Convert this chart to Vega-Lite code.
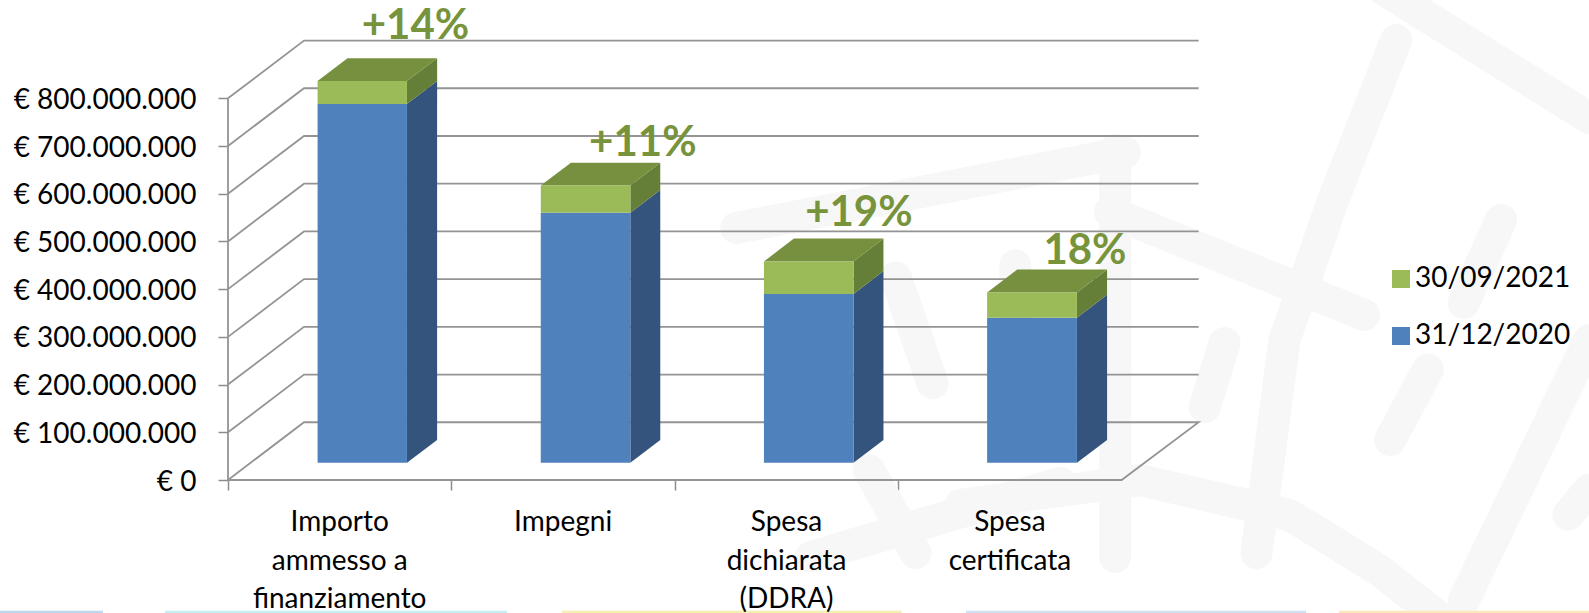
{
"$schema":"https://vega.github.io/schema/vega-lite/v6.json",
"width":1361,"height":480,
"autosize":{"type":"none"},
"padding":{"left":228,"top":0,"right":0,"bottom":133},
"background":"white",
"config":{"view":{"stroke":null},"font":"Lato"},
"datasets":{
"watermark":[
{"id":"a","ord":1,"pos":2.275,"val":528000000},{"id":"a","ord":2,"pos":4.015,"val":687000000},
{"id":"b","ord":1,"pos":3.971,"val":692000000},{"id":"b","ord":2,"pos":3.971,"val":-161000000},
{"id":"c","ord":1,"pos":3.948,"val":562000000},{"id":"c","ord":2,"pos":5.085,"val":346000000},
{"id":"d","ord":1,"pos":5.229,"val":922000000},{"id":"d","ord":2,"pos":4.947,"val":587000000},{"id":"d","ord":3,"pos":4.729,"val":293000000},{"id":"d","ord":4,"pos":4.604,"val":-153000000},
{"id":"e","ord":1,"pos":5.175,"val":1027000000},{"id":"e","ord":2,"pos":6.0922,"val":759000000},
{"id":"f","ord":1,"pos":5.698,"val":545000000},{"id":"f","ord":2,"pos":5.531,"val":371000000},
{"id":"g","ord":1,"pos":4.461,"val":287000000},{"id":"g","ord":2,"pos":4.372,"val":153000000},
{"id":"h","ord":1,"pos":5.371,"val":231000000},{"id":"h","ord":2,"pos":5.202,"val":84000000},
{"id":"i","ord":1,"pos":6.0922,"val":293000000},{"id":"i","ord":2,"pos":5.532,"val":-252000000},
{"id":"j","ord":1,"pos":6.0922,"val":-21000000},{"id":"j","ord":2,"pos":6.0,"val":-73000000},
{"id":"k","ord":1,"pos":3.279,"val":-52000000},{"id":"k","ord":2,"pos":4.082,"val":0},{"id":"k","ord":3,"pos":4.751,"val":-73000000},{"id":"k","ord":4,"pos":5.153,"val":-189000000},{"id":"k","ord":5,"pos":5.465,"val":-304000000},
{"id":"l","ord":1,"pos":2.989,"val":425000000},{"id":"l","ord":2,"pos":3.154,"val":203000000},
{"id":"m","ord":1,"pos":2.869,"val":21000000},{"id":"m","ord":2,"pos":3.078,"val":-153000000},
{"id":"n","ord":1,"pos":2.61,"val":-161000000},{"id":"n","ord":2,"pos":3.725,"val":-6000000},
{"id":"o","ord":1,"pos":3.524,"val":450000000},{"id":"o","ord":2,"pos":3.524,"val":314000000}
],
"strips":[
{"pos":-1.0206,"pos2":-0.5595,"val":-274000000,"val2":-279000000,"c":"#bcd6ee"},
{"pos":-0.2819,"pos2":1.2489,"val":-274000000,"val2":-279000000,"c":"#c5eef0"},
{"pos":1.495,"pos2":3.015,"val":-274000000,"val2":-279000000,"c":"#f3f0b0"},
{"pos":3.304,"pos2":4.826,"val":-274000000,"val2":-279000000,"c":"#cfe0f0"},
{"pos":4.973,"pos2":6.0922,"val":-274000000,"val2":-279000000,"c":"#fde9b8"}
],
"grid":[
{"id":"axis","ord":1,"pos":0,"val":0},{"id":"axis","ord":2,"pos":0,"val":800000000},
{"id":"floor","ord":1,"pos":0,"val":0},{"id":"floor","ord":2,"pos":0.3402,"val":121000000},{"id":"floor","ord":3,"pos":4.345,"val":121000000},{"id":"floor","ord":4,"pos":4,"val":0},{"id":"floor","ord":5,"pos":0,"val":0},
{"id":"g1","ord":1,"pos":0,"val":100000000},{"id":"g1","ord":2,"pos":0.3402,"val":221000000},{"id":"g1","ord":3,"pos":4.345,"val":221000000},
{"id":"g2","ord":1,"pos":0,"val":200000000},{"id":"g2","ord":2,"pos":0.3402,"val":321000000},{"id":"g2","ord":3,"pos":4.345,"val":321000000},
{"id":"g3","ord":1,"pos":0,"val":300000000},{"id":"g3","ord":2,"pos":0.3402,"val":421000000},{"id":"g3","ord":3,"pos":4.345,"val":421000000},
{"id":"g4","ord":1,"pos":0,"val":400000000},{"id":"g4","ord":2,"pos":0.3402,"val":521000000},{"id":"g4","ord":3,"pos":4.345,"val":521000000},
{"id":"g5","ord":1,"pos":0,"val":500000000},{"id":"g5","ord":2,"pos":0.3402,"val":621000000},{"id":"g5","ord":3,"pos":4.345,"val":621000000},
{"id":"g6","ord":1,"pos":0,"val":600000000},{"id":"g6","ord":2,"pos":0.3402,"val":721000000},{"id":"g6","ord":3,"pos":4.345,"val":721000000},
{"id":"g7","ord":1,"pos":0,"val":700000000},{"id":"g7","ord":2,"pos":0.3402,"val":821000000},{"id":"g7","ord":3,"pos":4.345,"val":821000000},
{"id":"g8","ord":1,"pos":0,"val":800000000},{"id":"g8","ord":2,"pos":0.3402,"val":921000000},{"id":"g8","ord":3,"pos":4.345,"val":921000000}
],
"sideBlue":[
{"id":1,"pos":0.801,"val":36000000,"val2":788000000},{"id":1,"pos":0.936,"val":84000000,"val2":836000000},
{"id":2,"pos":1.801,"val":36000000,"val2":560000000},{"id":2,"pos":1.935,"val":84000000,"val2":608000000},
{"id":3,"pos":2.8,"val":36000000,"val2":390000000},{"id":3,"pos":2.934,"val":84000000,"val2":438000000},
{"id":4,"pos":3.8,"val":36000000,"val2":340000000},{"id":4,"pos":3.935,"val":84000000,"val2":388000000}
],
"sideGreen":[
{"id":1,"pos":0.801,"val":788000000,"val2":836000000},{"id":1,"pos":0.936,"val":836000000,"val2":884000000},
{"id":2,"pos":1.801,"val":560000000,"val2":617000000},{"id":2,"pos":1.935,"val":608000000,"val2":665000000},
{"id":3,"pos":2.8,"val":390000000,"val2":458000000},{"id":3,"pos":2.934,"val":438000000,"val2":506000000},
{"id":4,"pos":3.8,"val":340000000,"val2":393000000},{"id":4,"pos":3.935,"val":388000000,"val2":441000000}
],
"topFace":[
{"id":1,"pos":0.401,"val":836000000,"val2":836000000},{"id":1,"pos":0.535,"val":836000000,"val2":884000000},{"id":1,"pos":0.801,"val":836000000,"val2":884000000},{"id":1,"pos":0.936,"val":884000000,"val2":884000000},
{"id":2,"pos":1.4,"val":617000000,"val2":617000000},{"id":2,"pos":1.535,"val":617000000,"val2":665000000},{"id":2,"pos":1.801,"val":617000000,"val2":665000000},{"id":2,"pos":1.935,"val":665000000,"val2":665000000},
{"id":3,"pos":2.399,"val":458000000,"val2":458000000},{"id":3,"pos":2.533,"val":458000000,"val2":506000000},{"id":3,"pos":2.8,"val":458000000,"val2":506000000},{"id":3,"pos":2.934,"val":506000000,"val2":506000000},
{"id":4,"pos":3.398,"val":393000000,"val2":393000000},{"id":4,"pos":3.533,"val":393000000,"val2":441000000},{"id":4,"pos":3.8,"val":393000000,"val2":441000000},{"id":4,"pos":3.935,"val":441000000,"val2":441000000}
],
"front":[
{"series":"31/12/2020","pos":0.401,"pos2":0.801,"val":36000000,"val2":788000000},
{"series":"30/09/2021","pos":0.401,"pos2":0.801,"val":788000000,"val2":836000000},
{"series":"31/12/2020","pos":1.4,"pos2":1.801,"val":36000000,"val2":560000000},
{"series":"30/09/2021","pos":1.4,"pos2":1.801,"val":560000000,"val2":617000000},
{"series":"31/12/2020","pos":2.399,"pos2":2.8,"val":36000000,"val2":390000000},
{"series":"30/09/2021","pos":2.399,"pos2":2.8,"val":390000000,"val2":458000000},
{"series":"31/12/2020","pos":3.398,"pos2":3.8,"val":36000000,"val2":340000000},
{"series":"30/09/2021","pos":3.398,"pos2":3.8,"val":340000000,"val2":393000000}
],
"growth":[
{"label":"+14%","pos":0.839,"val":951000000},
{"label":"+11%","pos":1.857,"val":706000000},
{"label":"+19%","pos":2.824,"val":559000000},
{"label":"18%","pos":3.836,"val":479000000}
],
"cats":[
{"label":"Importo\nammesso a\nfinanziamento","pos":0.5,"val":-61000000},
{"label":"Impegni","pos":1.5,"val":-61000000},
{"label":"Spesa\ndichiarata\n(DDRA)","pos":2.5,"val":-61000000},
{"label":"Spesa\ncertificata","pos":3.5,"val":-61000000}
]
},
"encoding":{
"x":{"field":"pos","type":"quantitative","scale":{"domain":[0,6.0922],"nice":false,"zero":false},"title":null,
"axis":{"values":[0,1,2,3,4],"labels":false,"domain":false,"grid":false,"ticks":true,"tickSize":10,"tickColor":"#8c8c8c","tickWidth":1.5,"title":null}},
"y":{"field":"val","type":"quantitative","scale":{"domain":[0,1006000000],"nice":false,"zero":false},"title":null,
"axis":{"values":[0,100000000,200000000,300000000,400000000,500000000,600000000,700000000,800000000],"domain":false,"grid":false,"ticks":true,"tickSize":10,"tickColor":"#8c8c8c","tickWidth":1.5,"labelFont":"Lato","labelFontSize":28,"labelColor":"#000000","labelPadding":22,"labelLimit":0,"labelOffset":2,"title":null,
"labelExpr":"'€ ' + replace(format(datum.value, ','), /,/g, '.')"}}
},
"layer":[
{"data":{"name":"watermark"},"mark":{"type":"line","color":"#f7f7f7","strokeWidth":32,"strokeCap":"round","strokeJoin":"round"},"encoding":{"detail":{"field":"id"},"order":{"field":"ord","type":"quantitative"}}},
{"data":{"name":"strips"},"mark":{"type":"rect"},"encoding":{"x2":{"field":"pos2"},"y2":{"field":"val2"},"fill":{"field":"c","type":"nominal","scale":null,"legend":null}}},
{"data":{"name":"grid"},"mark":{"type":"line","color":"#949494","strokeWidth":1.8},"encoding":{"detail":{"field":"id"},"order":{"field":"ord","type":"quantitative"}}},
{"data":{"name":"sideBlue"},"mark":{"type":"area","orient":"vertical","color":"#34547e"},"encoding":{"y2":{"field":"val2"},"detail":{"field":"id"}}},
{"data":{"name":"sideGreen"},"mark":{"type":"area","orient":"vertical","color":"#667f38"},"encoding":{"y2":{"field":"val2"},"detail":{"field":"id"}}},
{"data":{"name":"topFace"},"mark":{"type":"area","orient":"vertical","color":"#77903f"},"encoding":{"y2":{"field":"val2"},"detail":{"field":"id"}}},
{"data":{"name":"front"},"mark":{"type":"rect"},"encoding":{"x2":{"field":"pos2"},"y2":{"field":"val2"},
"color":{"field":"series","type":"nominal","scale":{"domain":["30/09/2021","31/12/2020"],"range":["#9bbb59","#4f81bd"]},
"legend":{"orient":"none","legendX":1159,"legendY":265,"title":null,"symbolType":"square","symbolSize":324,"symbolStrokeWidth":0,"labelFont":"Lato","labelFontSize":28,"labelColor":"#000000","rowPadding":29,"labelOffset":0}}}},
{"data":{"name":"growth"},"mark":{"type":"text","font":"Lato","fontWeight":"bold","fontSize":42,"color":"#77933c","align":"center","baseline":"middle"},"encoding":{"text":{"field":"label"}}},
{"data":{"name":"cats"},"mark":{"type":"text","font":"Lato","fontSize":28,"color":"#000000","align":"center","baseline":"top","lineBreak":"\n","lineHeight":38.5},"encoding":{"text":{"field":"label"}}}
]
}
